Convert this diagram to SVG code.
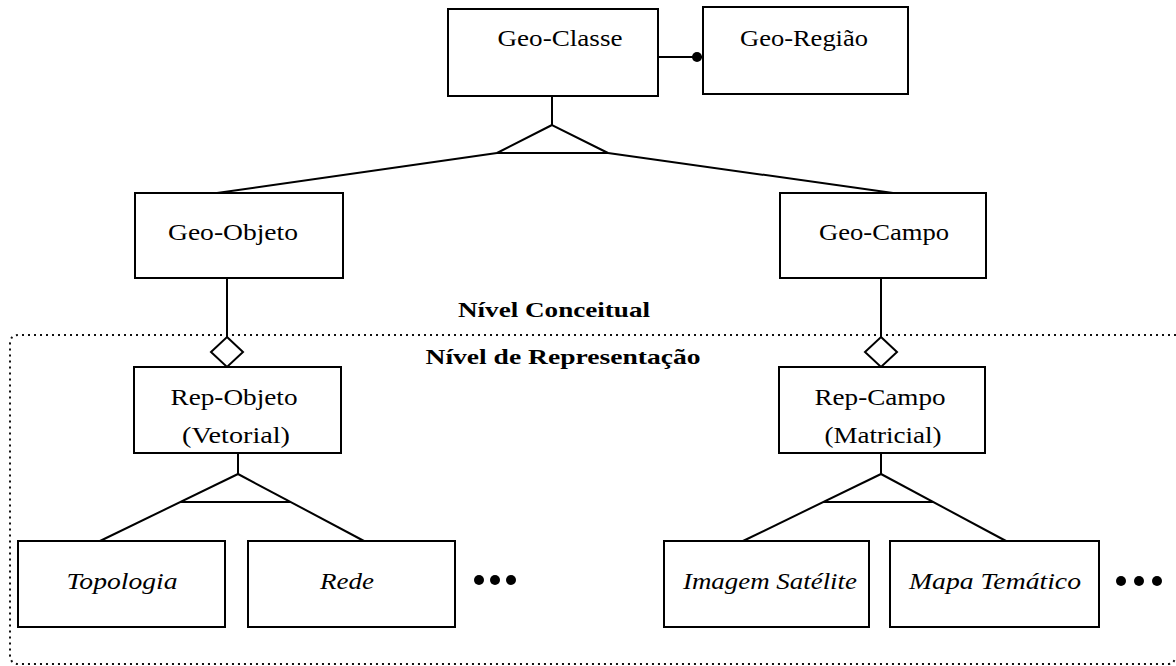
<svg xmlns="http://www.w3.org/2000/svg" width="1176" height="666" viewBox="0 0 1176 666">
  <style>
    .box { fill: #fff; stroke: #000; stroke-width: 2; }
    .ln { fill: none; stroke: #000; stroke-width: 2; }
    .tri { fill: #fff; stroke: #000; stroke-width: 2; stroke-linejoin: miter; }
    .lbl { font-family: "Liberation Serif", "Times New Roman", serif; font-size: 23px; fill: #000; text-anchor: middle; }
    .it { font-style: italic; }
    .hd { font-family: "Liberation Serif", "Times New Roman", serif; font-size: 22px; font-weight: bold; fill: #000; text-anchor: middle; }
    .frame { fill: none; stroke: #111; stroke-width: 2; stroke-dasharray: 2 4; }
    .dot { fill: #000; }
  </style>

  <rect width="1176" height="666" fill="#fff"/>

  <!-- boundary between conceptual and representation levels -->
  <path class="frame" d="M1176,335 H19 Q10,335 10,344 V655 Q10,664 19,664 H1168 Q1174,664 1175,658"/>
  <text class="hd" x="554" y="317" textLength="192" lengthAdjust="spacingAndGlyphs">Nível Conceitual</text>
  <text class="hd" x="563" y="364" textLength="275" lengthAdjust="spacingAndGlyphs">Nível de Representação</text>

  <g id="connectors">
    <!-- Geo-Classe to Geo-Região -->
    <line class="ln" x1="658" y1="57" x2="703" y2="57"/>
    <circle class="dot" cx="697" cy="57" r="5"/>
    <!-- generalization Geo-Classe -->
    <line class="ln" x1="552" y1="96" x2="552" y2="125"/>
    <polygon class="tri" points="552,125 497,153 608,153"/>
    <line class="ln" x1="497" y1="153" x2="217" y2="193"/>
    <line class="ln" x1="608" y1="153" x2="893" y2="193"/>
    <!-- aggregation Geo-Objeto / Rep-Objeto -->
    <line class="ln" x1="227" y1="278" x2="227" y2="337"/>
    <polygon class="tri" points="227,337 243,352 227,367 211,352"/>
    <!-- aggregation Geo-Campo / Rep-Campo -->
    <line class="ln" x1="881" y1="278" x2="881" y2="337"/>
    <polygon class="tri" points="881,337 897,352 881,367 865,352"/>
    <!-- generalization Rep-Objeto -->
    <line class="ln" x1="238" y1="453" x2="238" y2="474"/>
    <line class="ln" x1="238" y1="474" x2="100" y2="541"/>
    <line class="ln" x1="238" y1="474" x2="364" y2="541"/>
    <line class="ln" x1="180" y1="502" x2="291" y2="502"/>
    <!-- generalization Rep-Campo -->
    <line class="ln" x1="881" y1="453" x2="881" y2="474"/>
    <line class="ln" x1="881" y1="474" x2="743" y2="541"/>
    <line class="ln" x1="881" y1="474" x2="1006" y2="541"/>
    <line class="ln" x1="823" y1="502" x2="933" y2="502"/>
  </g>

  <g id="geo-classe">
    <rect class="box" x="448" y="9" width="210" height="87"/>
    <text class="lbl" x="560" y="46" textLength="125" lengthAdjust="spacingAndGlyphs">Geo-Classe</text>
  </g>
  <g id="geo-regiao">
    <rect class="box" x="703" y="7" width="205" height="87"/>
    <text class="lbl" x="804" y="46" textLength="128" lengthAdjust="spacingAndGlyphs">Geo-Região</text>
  </g>
  <g id="geo-objeto">
    <rect class="box" x="135" y="193" width="208" height="85"/>
    <text class="lbl" x="233" y="240" textLength="130" lengthAdjust="spacingAndGlyphs">Geo-Objeto</text>
  </g>
  <g id="geo-campo">
    <rect class="box" x="780" y="193" width="206" height="85"/>
    <text class="lbl" x="884" y="240" textLength="130" lengthAdjust="spacingAndGlyphs">Geo-Campo</text>
  </g>
  <g id="rep-objeto">
    <rect class="box" x="134" y="367" width="207" height="86"/>
    <text class="lbl" x="234" y="405" textLength="127" lengthAdjust="spacingAndGlyphs">Rep-Objeto</text>
    <text class="lbl" x="236" y="443" textLength="108" lengthAdjust="spacingAndGlyphs">(Vetorial)</text>
  </g>
  <g id="rep-campo">
    <rect class="box" x="779" y="367" width="206" height="86"/>
    <text class="lbl" x="880" y="405" textLength="131" lengthAdjust="spacingAndGlyphs">Rep-Campo</text>
    <text class="lbl" x="883" y="443" textLength="117" lengthAdjust="spacingAndGlyphs">(Matricial)</text>
  </g>
  <g id="topologia">
    <rect class="box" x="18" y="541" width="207" height="86"/>
    <text class="lbl it" x="122" y="589" textLength="111" lengthAdjust="spacingAndGlyphs">Topologia</text>
  </g>
  <g id="rede">
    <rect class="box" x="248" y="541" width="207" height="86"/>
    <text class="lbl it" x="347" y="589" textLength="54" lengthAdjust="spacingAndGlyphs">Rede</text>
  </g>
  <g id="mais-vetorial">
    <circle class="dot" cx="479" cy="580" r="5"/>
    <circle class="dot" cx="495" cy="580" r="5"/>
    <circle class="dot" cx="511" cy="580" r="5"/>
  </g>
  <g id="imagem-satelite">
    <rect class="box" x="664" y="541" width="205" height="86"/>
    <text class="lbl it" x="770" y="589" textLength="174" lengthAdjust="spacingAndGlyphs">Imagem Satélite</text>
  </g>
  <g id="mapa-tematico">
    <rect class="box" x="890" y="541" width="209" height="86"/>
    <text class="lbl it" x="995" y="589" textLength="172" lengthAdjust="spacingAndGlyphs">Mapa Temático</text>
  </g>
  <g id="mais-matricial">
    <circle class="dot" cx="1121" cy="581" r="5"/>
    <circle class="dot" cx="1139" cy="581" r="5"/>
    <circle class="dot" cx="1157" cy="581" r="5"/>
  </g>
</svg>
